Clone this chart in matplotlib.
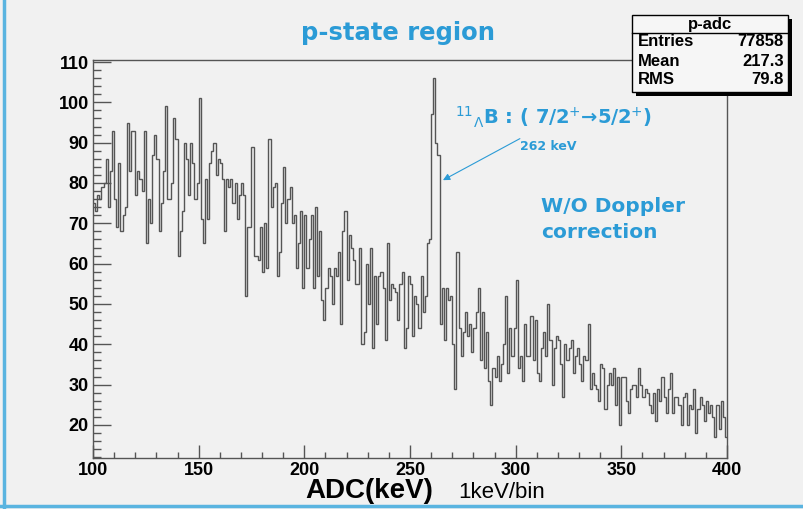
import numpy as np
import matplotlib.pyplot as plt
from matplotlib.patches import Rectangle
from matplotlib.ticker import MultipleLocator

# p-adc histogram, 1 keV/bin, 100..400 keV (counts)
bin_lo = 100
bin_hi = 400

counts_100_149 = [75, 73, 77, 76, 79, 80, 86, 74, 83, 93,
                  76, 69, 85, 68, 72, 74, 95, 83, 93, 93,
                  77, 83, 81, 78, 93, 65, 76, 70, 87, 92,
                  86, 68, 75, 83, 99, 76, 76, 80, 96, 91,
                  62, 68, 73, 90, 86, 77, 90, 85, 76, 80]
counts_150_199 = [101, 71, 65, 81, 71, 85, 88, 90, 82, 86,
                  85, 81, 68, 81, 79, 81, 75, 80, 71, 77,
                  80, 77, 52, 69, 69, 89, 62, 62, 61, 69,
                  58, 70, 59, 91, 74, 79, 80, 57, 63, 75,
                  84, 70, 76, 79, 70, 72, 59, 65, 73, 54]
counts_200_257 = [72, 59, 66, 72, 54, 74, 57, 68, 51, 46,
                  54, 59, 57, 50, 59, 57, 63, 45, 68, 73,
                  56, 67, 64, 61, 55, 55, 64, 40, 43, 60,
                  50, 64, 39, 57, 45, 57, 58, 54, 41, 65,
                  51, 55, 54, 53, 46, 55, 58, 39, 44, 57,
                  55, 42, 52, 50, 44, 57, 48, 52]
counts_258_264 = [65, 66, 97, 106, 90, 87, 45]   # 262 keV line
counts_265_305 = [54, 41, 54, 51, 52, 40, 29, 63, 44, 37,
                  43, 48, 42, 45, 38, 44, 48, 54, 36, 48,
                  34, 43, 31, 25, 34, 32, 37, 31, 35, 40,
                  52, 33, 44, 37, 44, 56, 34, 37, 31, 45,
                  37]
counts_306_355 = [37, 47, 36, 46, 33, 31, 39, 43, 37, 50,
                  41, 30, 39, 42, 41, 35, 27, 40, 36, 39,
                  41, 33, 37, 39, 35, 31, 37, 36, 45, 29,
                  33, 30, 29, 26, 35, 34, 24, 30, 33, 30,
                  34, 25, 32, 20, 32, 32, 26, 23, 29, 30]
counts_356_399 = [30, 27, 34, 30, 27, 29, 28, 25, 23, 28,
                  21, 29, 26, 32, 27, 23, 29, 33, 23, 27,
                  27, 25, 20, 27, 28, 20, 25, 24, 29, 18,
                  24, 27, 25, 21, 26, 23, 25, 22, 17, 25,
                  19, 26, 22, 17]

counts = (counts_100_149 + counts_150_199 + counts_200_257 + counts_258_264
          + counts_265_305 + counts_306_355 + counts_356_399)

stat_names = ['Entries', 'Mean', 'RMS']
stat_values = ['77858', '217.3', '79.8']

W, H = 804, 509
bg = '#f1f1f1'
blue = '#2b9bd6'
axcol = '#555555'

plt.rcParams['font.family'] = ['Liberation Sans', 'DejaVu Sans']

fig = plt.figure(figsize=(W / 100, H / 100), dpi=100, facecolor=bg)
ax = fig.add_axes([93 / W, 1 - 458 / H, (727 - 93) / W, (458 - 60) / H])
ax.set_facecolor(bg)

edges = np.arange(bin_lo, bin_hi + 1)
ax.stairs(counts, edges, baseline=None, color='#555555', lw=1.0)

ax.set_xlim(bin_lo, bin_hi)
ax.set_ylim(11.8, 110.5)
ax.xaxis.set_major_locator(MultipleLocator(50))
ax.xaxis.set_minor_locator(MultipleLocator(10))
ax.yaxis.set_major_locator(MultipleLocator(10))
ax.yaxis.set_minor_locator(MultipleLocator(2))
ax.tick_params(axis='y', which='major', direction='in', length=13, width=1,
               labelsize=13, pad=3, color=axcol)
ax.tick_params(axis='y', which='minor', direction='in', length=6, width=1, color=axcol)
ax.tick_params(axis='x', which='major', direction='in', length=9.5, width=1,
               labelsize=13, pad=3, color=axcol)
ax.tick_params(axis='x', which='minor', direction='in', length=4.5, width=1, color=axcol)
for lab in ax.get_xticklabels() + ax.get_yticklabels():
    lab.set_fontweight('bold')
for s in ax.spines.values():
    s.set_color(axcol)
    s.set_linewidth(1.0)

# axis titles
fig.text(369 / W, 1 - 491 / H, 'ADC(keV)', fontsize=20, fontweight='bold',
         ha='center', va='center')
fig.text(458 / W, 1 - 492 / H, '1keV/bin', fontsize=16, ha='left', va='center')

# title
fig.text(398 / W, 1 - 33 / H, 'p-state region', fontsize=17.5, fontweight='bold',
         color=blue, ha='center', va='center', family='DejaVu Sans')

# annotations
fig.text(455 / W, 1 - 117 / H, r'$^{11}{}_{\Lambda}$B : ( 7/2$^{+}$→5/2$^{+}$)',
         fontsize=14, fontweight='bold', color=blue, ha='left', va='center',
         family='DejaVu Sans')
fig.text(520 / W, 1 - 146 / H, '262 keV', fontsize=9, fontweight='bold',
         color=blue, ha='left', va='center', family='DejaVu Sans')
fig.text(541 / W, 1 - 207 / H, 'W/O Doppler', fontsize=14.5, fontweight='bold',
         color=blue, ha='left', va='center', family='DejaVu Sans')
fig.text(541 / W, 1 - 232 / H, 'correction', fontsize=14.5, fontweight='bold',
         color=blue, ha='left', va='center', family='DejaVu Sans')
ax.annotate('', xy=(265.6, 80.7), xytext=(302, 91),
            arrowprops=dict(arrowstyle='-|>', color=blue, lw=0.8,
                            mutation_scale=10, shrinkA=0, shrinkB=0))

# stats box
bx0, bx1, by0, by1 = 632 / W, 788 / W, 1 - 92 / H, 1 - 15 / H
fig.add_artist(Rectangle((bx0 + 4 / W, by0 - 4 / H), bx1 - bx0, by1 - by0,
                         transform=fig.transFigure, facecolor='black', edgecolor='none'))
fig.add_artist(Rectangle((bx0, by0), bx1 - bx0, by1 - by0, transform=fig.transFigure,
                         facecolor='#f6f6f6', edgecolor='black', lw=1))
fig.add_artist(plt.Line2D([bx0, bx1], [1 - 33 / H, 1 - 33 / H],
                          transform=fig.transFigure, color='black', lw=1))
fig.text((bx0 + bx1) / 2, 1 - 24 / H, 'p-adc', fontsize=12, fontweight='bold',
         ha='center', va='center')
row_y = [42, 61, 80]
for name, val, yy in zip(stat_names, stat_values, row_y):
    fig.text(638 / W, 1 - yy / H, name, fontsize=12, fontweight='bold', ha='left', va='center')
    fig.text(784 / W, 1 - yy / H, val, fontsize=12, fontweight='bold', ha='right', va='center')

# slide border
fig.add_artist(plt.Line2D([4 / W, 4 / W], [0, 1], transform=fig.transFigure,
                          color='#5ab4e0', lw=2.5))
fig.add_artist(plt.Line2D([0, 1], [3 / H, 3 / H], transform=fig.transFigure,
                          color='#5ab4e0', lw=2.5))

fig.savefig('out.png', dpi=100, facecolor=bg)
